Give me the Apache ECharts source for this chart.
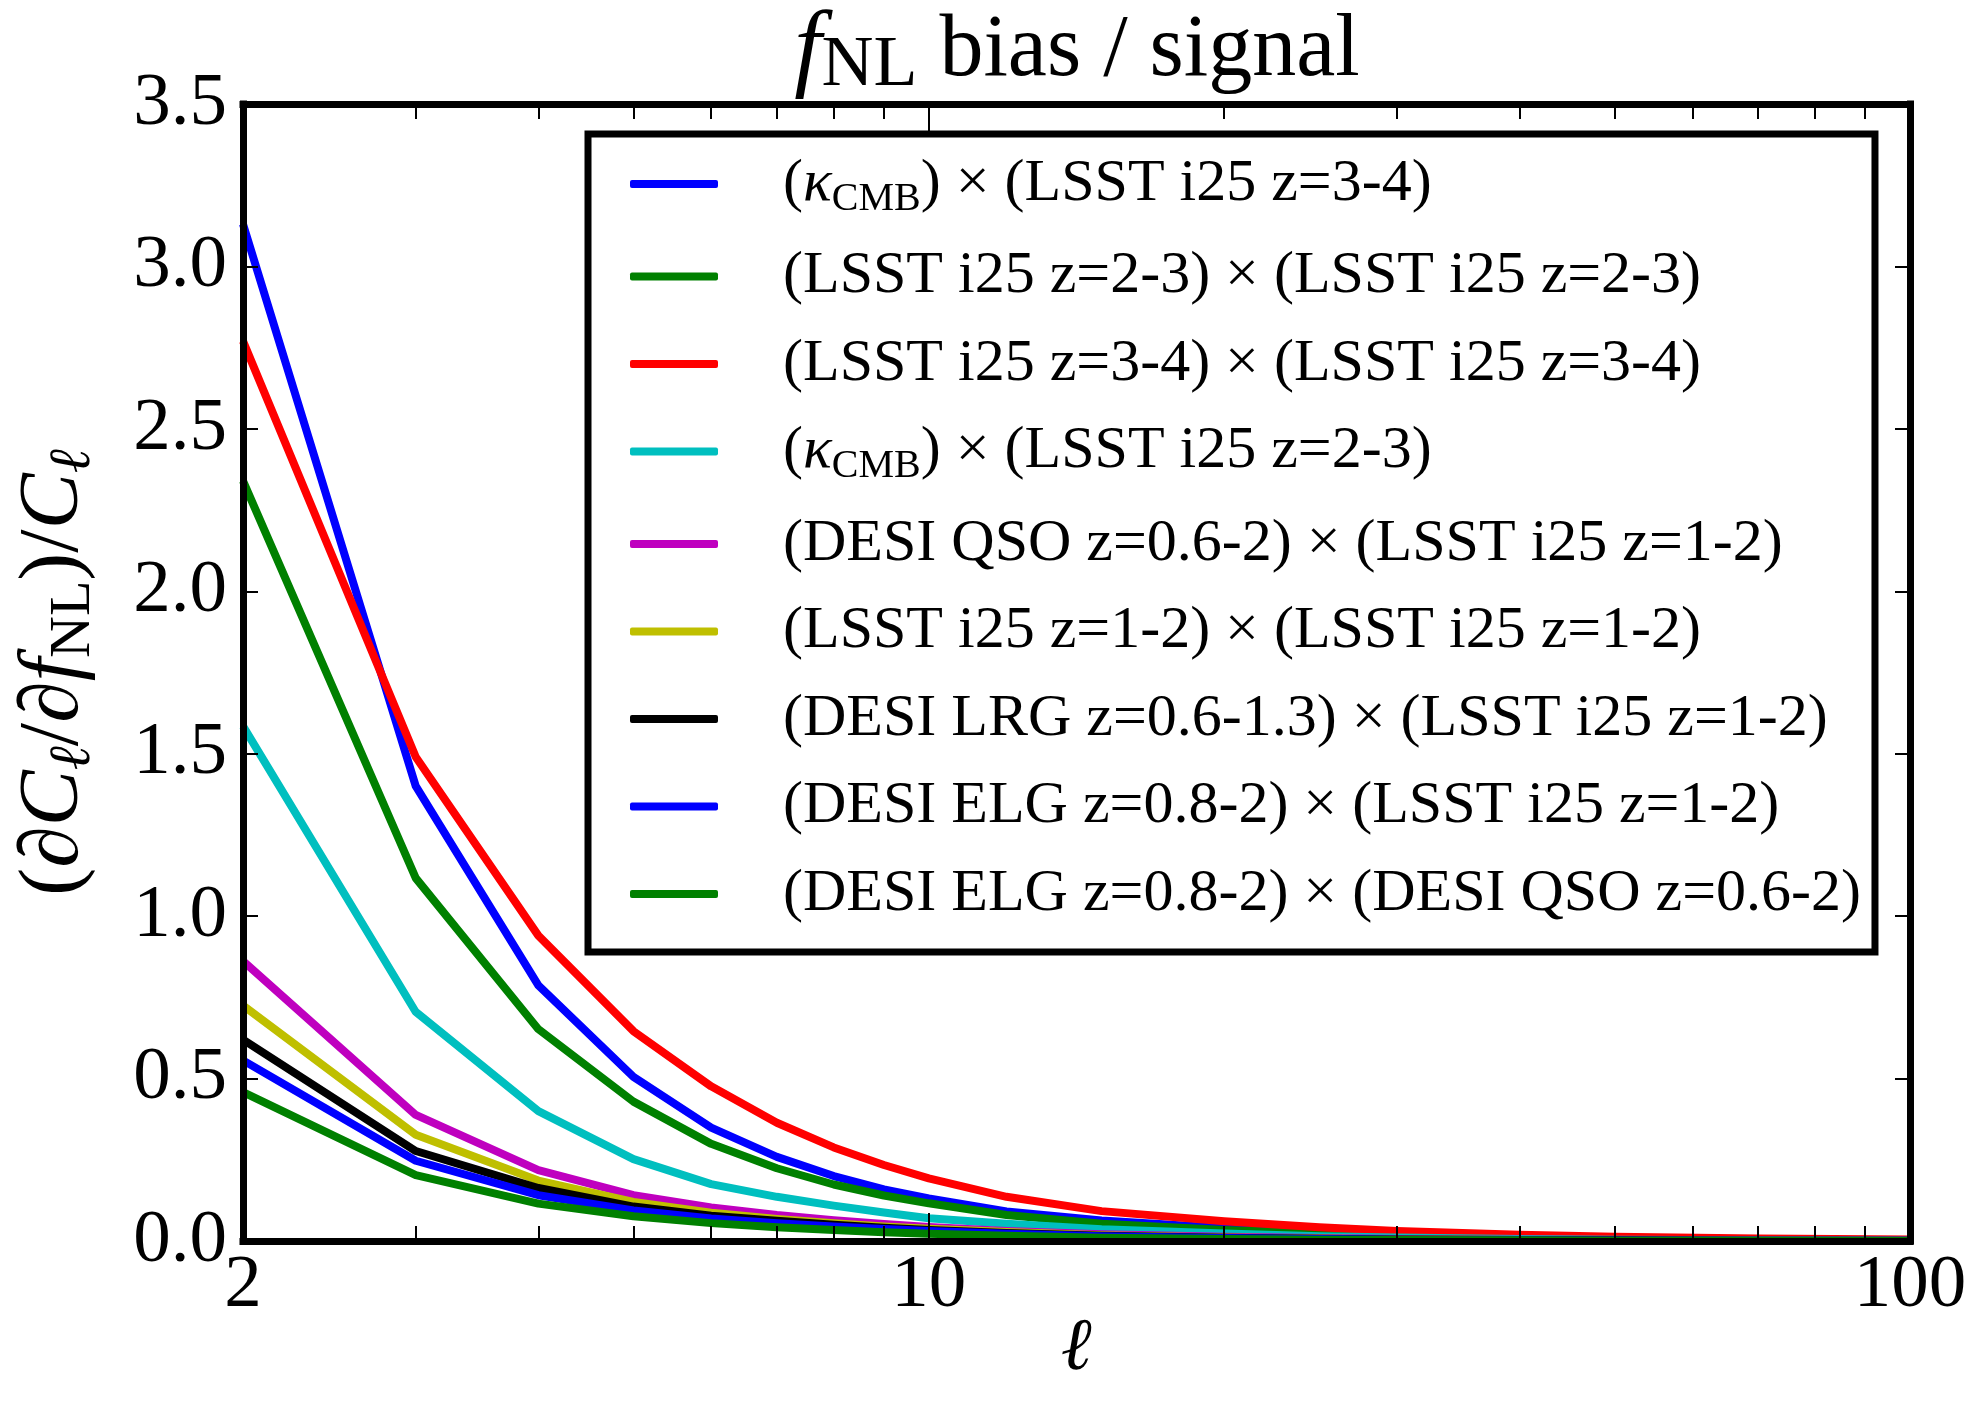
<!DOCTYPE html>
<html>
<head>
<meta charset="utf-8">
<title>fNL bias / signal</title>
<script src="https://cdn.jsdelivr.net/npm/echarts@6/dist/echarts.min.js"></script>
<style>
  html, body { margin: 0; padding: 0; background: #ffffff; }
  #chart { width: 1976px; height: 1406px; }
</style>
</head>
<body>
<div id="chart"></div>
<script>
// Multipoles at which each curve is sampled
const ells = [2, 3, 4, 5, 6, 7, 8, 9, 10, 12, 15, 20, 25, 30, 40, 50, 70, 100];

// (dC_l/dfNL)/C_l for each cross-spectrum
const kappaXLsst34   = [3.13, 1.40, 0.787, 0.505, 0.349, 0.259, 0.200, 0.159, 0.131, 0.091, 0.063, 0.040, 0.028, 0.020, 0.012, 0.008, 0.004, 0.002];
const lsst23XLsst23  = [2.34, 1.117, 0.652, 0.429, 0.299, 0.224, 0.174, 0.140, 0.116, 0.080, 0.053, 0.034, 0.024, 0.017, 0.010, 0.006, 0.003, 0.0015];
const lsst34XLsst34  = [2.77, 1.49, 0.940, 0.646, 0.476, 0.364, 0.288, 0.234, 0.193, 0.136, 0.092, 0.061, 0.042, 0.031, 0.019, 0.013, 0.008, 0.005];
const kappaXLsst23   = [1.585, 0.705, 0.400, 0.252, 0.175, 0.136, 0.109, 0.088, 0.070, 0.053, 0.036, 0.023, 0.015, 0.011, 0.006, 0.004, 0.002, 0.001];
const qsoXLsst12     = [0.862, 0.388, 0.218, 0.141, 0.103, 0.080, 0.064, 0.052, 0.043, 0.031, 0.021, 0.013, 0.009, 0.006, 0.004, 0.003, 0.0015, 0.001];
const lsst12XLsst12  = [0.725, 0.327, 0.186, 0.120, 0.087, 0.068, 0.055, 0.045, 0.038, 0.028, 0.018, 0.011, 0.008, 0.005, 0.003, 0.002, 0.001, 0.0005];
const lrgXLsst12     = [0.620, 0.277, 0.163, 0.106, 0.078, 0.062, 0.050, 0.041, 0.034, 0.025, 0.016, 0.010, 0.007, 0.005, 0.003, 0.002, 0.001, 0.0005];
const elgXLsst12     = [0.556, 0.247, 0.141, 0.094, 0.069, 0.055, 0.045, 0.037, 0.031, 0.022, 0.015, 0.009, 0.006, 0.004, 0.0025, 0.0015, 0.001, 0.0005];
const elgXQso        = [0.458, 0.203, 0.115, 0.076, 0.055, 0.042, 0.034, 0.027, 0.022, 0.016, 0.010, 0.006, 0.004, 0.003, 0.002, 0.001, 0.0005, 0.0003];

const seriesNames = [
  '(κCMB) × (LSST i25 z=3-4)',
  '(LSST i25 z=2-3) × (LSST i25 z=2-3)',
  '(LSST i25 z=3-4) × (LSST i25 z=3-4)',
  '(κCMB) × (LSST i25 z=2-3)',
  '(DESI QSO z=0.6-2) × (LSST i25 z=1-2)',
  '(LSST i25 z=1-2) × (LSST i25 z=1-2)',
  '(DESI LRG z=0.6-1.3) × (LSST i25 z=1-2)',
  '(DESI ELG z=0.8-2) × (LSST i25 z=1-2)',
  '(DESI ELG z=0.8-2) × (DESI QSO z=0.6-2)'
];
const seriesValues = [kappaXLsst34, lsst23XLsst23, lsst34XLsst34, kappaXLsst23,
  qsoXLsst12, lsst12XLsst12, lrgXLsst12, elgXLsst12, elgXQso];

// Axis ticks
const xLabelTicks = [2, 10, 100];
const xMajorTicks = [10];
const xMinorTicks = [3, 4, 5, 6, 7, 8, 9, 20, 30, 40, 50, 60, 70, 80, 90];
const yMin = 0, yMax = 3.5, yStep = 0.5;

// Line colours (classic matplotlib b, g, r, c, m, y, k)
const lineColors = ['#0000ff', '#008000', '#ff0000', '#00bfbf', '#bf00bf', '#bfbf00', '#000000', '#0000ff', '#008000'];

const SERIF = "'Liberation Serif', 'Times New Roman', serif";
const FRAME = 7;
const LINE_W = 8;

function legendText(name) {
  const parts = name.split('κCMB');
  let out = '{g|\u00a0}';
  parts.forEach(function (p, i) {
    if (i > 0) out += '{k|κ}{s|CMB}';
    if (p) out += '{t|' + p + '}';
  });
  return out;
}

function xAxisSpec(position, ticks, tickLen, withLine, withLabels) {
  return {
    type: 'log', logBase: 10, min: 2, max: 100, position: position,
    z: 10,
    axisLine: { show: withLine, onZero: false, lineStyle: { color: '#000', width: FRAME, cap: 'square' } },
    axisTick: { show: true, inside: true, length: tickLen, customValues: ticks,
      lineStyle: { color: '#000', width: 2 } },
    axisLabel: withLabels ? {
      show: true, customValues: xLabelTicks, color: '#000',
      fontFamily: SERIF, fontSize: 75, margin: 8
    } : { show: false },
    splitLine: { show: false },
    minorTick: { show: false }
  };
}

function yAxisSpec(position, withLabels) {
  return {
    type: 'value', min: yMin, max: yMax, interval: yStep, position: position,
    z: 10,
    axisLine: { show: true, lineStyle: { color: '#000', width: FRAME, cap: 'square' } },
    axisTick: { show: true, inside: true, length: 15, lineStyle: { color: '#000', width: 2 } },
    axisLabel: withLabels ? {
      show: true, color: '#000', fontFamily: SERIF, fontSize: 75, margin: 16,
      formatter: function (v) { return v.toFixed(1); }
    } : { show: false },
    splitLine: { show: false }
  };
}

const xAxes = [
  xAxisSpec('bottom', xMinorTicks, 15, true, true),
  xAxisSpec('bottom', xMajorTicks, 28, false, false),
  xAxisSpec('top', xMinorTicks, 15, true, false),
  xAxisSpec('top', xMajorTicks, 28, false, false)
];
Object.assign(xAxes[0], {
  name: 'ℓ', nameLocation: 'middle', nameGap: 72, nameMoveOverlap: false,
  nameTextStyle: { fontFamily: SERIF, fontStyle: 'italic', fontSize: 74, color: '#000' }
});

const yAxes = [yAxisSpec('left', true), yAxisSpec('right', false)];
Object.assign(yAxes[0], {
  name: '{p|(}{d|∂}{c|C}{l|ℓ}{p|/}{d|∂}{f|f}{n|NL}{p|)/}{c|C}{l|ℓ}',
  nameLocation: 'middle', nameRotate: 90, nameGap: 140, nameMoveOverlap: false,
  nameTextStyle: {
    color: '#000',
    rich: {
      p: { fontFamily: SERIF, fontSize: 84, lineHeight: 96, color: '#000' },
      d: { fontFamily: SERIF, fontStyle: 'italic', fontSize: 84, lineHeight: 96, color: '#000' },
      c: { fontFamily: SERIF, fontStyle: 'italic', fontSize: 84, lineHeight: 96, color: '#000' },
      f: { fontFamily: SERIF, fontStyle: 'italic', fontSize: 84, lineHeight: 96, color: '#000' },
      l: { fontFamily: SERIF, fontStyle: 'italic', fontSize: 58, lineHeight: 60, verticalAlign: 'bottom', color: '#000' },
      n: { fontFamily: SERIF, fontSize: 58, lineHeight: 60, verticalAlign: 'bottom', color: '#000' }
    }
  }
});

const chart = echarts.init(document.getElementById('chart'), null, { renderer: 'canvas' });

chart.setOption({
  animation: false,
  backgroundColor: '#ffffff',
  grid: { left: 243, top: 104, width: 1667, height: 1137, show: false, outerBoundsMode: 'none' },
  graphic: [{
    type: 'text', x: 1077, y: 2, z: 20,
    style: {
      text: '{f|f}{n|NL}{t| bias / signal}',
      textAlign: 'center', textVerticalAlign: 'top',
      rich: {
        f: { fontFamily: SERIF, fontStyle: 'italic', fontSize: 98, lineHeight: 100, fill: '#000' },
        n: { fontFamily: SERIF, fontSize: 72, lineHeight: 62, verticalAlign: 'bottom', fill: '#000' },
        t: { fontFamily: SERIF, fontSize: 88, lineHeight: 100, fill: '#000' }
      }
    }
  }],
  legend: {
    show: true, orient: 'vertical', left: 588, top: 134,
    padding: [20, 14, 28, 42], itemGap: 27.5,
    itemWidth: 88, itemHeight: 8, icon: 'roundRect',
    selectedMode: false,
    backgroundColor: '#ffffff', borderColor: '#000', borderWidth: FRAME,
    data: seriesNames,
    formatter: legendText,
    textStyle: {
      color: '#000',
      rich: {
        g: { width: 60, fontSize: 60, lineHeight: 70 },
        t: { fontFamily: SERIF, fontSize: 60, lineHeight: 70, color: '#000' },
        k: { fontFamily: SERIF, fontStyle: 'italic', fontSize: 60, lineHeight: 70, color: '#000' },
        s: { fontFamily: SERIF, fontSize: 40, lineHeight: 36, verticalAlign: 'bottom', color: '#000' }
      }
    },
    z: 20
  },
  xAxis: xAxes,
  yAxis: yAxes,
  series: seriesNames.map(function (name, i) {
    return {
      name: name, type: 'line', xAxisIndex: 0, yAxisIndex: 0,
      showSymbol: false, symbol: 'none', silent: true, clip: true,
      color: lineColors[i],
      lineStyle: { color: lineColors[i], width: LINE_W, join: 'round' },
      data: ells.map(function (e, j) { return [e, seriesValues[i][j]]; })
    };
  })
});
</script>
</body>
</html>
